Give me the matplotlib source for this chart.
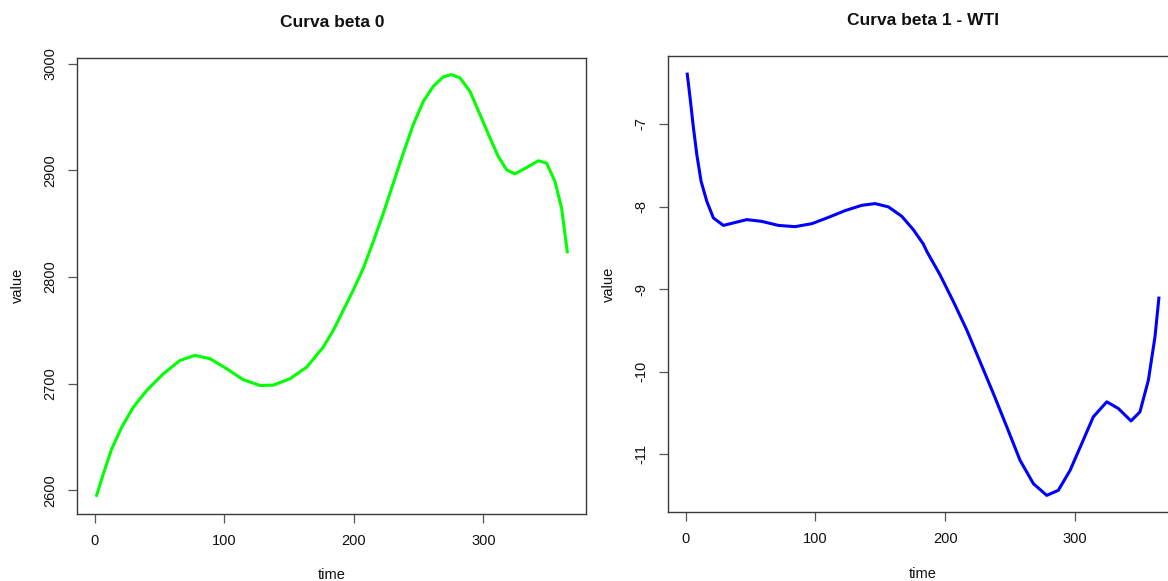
import matplotlib
matplotlib.use("Agg")
import matplotlib.pyplot as plt

plt.rcParams['font.family'] = ['Liberation Sans', 'DejaVu Sans']

# ---- data ----
beta0_time = [1, 6.5, 13, 20.7, 29.7, 40, 52.9, 65.8, 77.3, 88.9, 101.8, 114.6, 127.5,
              137.8, 150.7, 163.6, 176.4, 184.2, 190.6, 199.6, 207.3, 215, 222.8, 230.5,
              238.2, 245.9, 253.7, 261.4, 269.1, 275.6, 282, 289.7, 297.5, 305.2, 311.6,
              318, 324.5, 333.5, 342.5, 348.9, 355.4, 360.5, 365]
beta0_value = [2594, 2615.4, 2638.9, 2659.2, 2678, 2693.7, 2709.4, 2721.9, 2726.6, 2723.5,
               2714.1, 2703.8, 2698.4, 2698.7, 2704.7, 2715.6, 2734.4, 2750.1, 2765.8,
               2787.8, 2808.2, 2833.2, 2859.9, 2888.1, 2916.3, 2942.9, 2964.8, 2978.9,
               2987.8, 2989.9, 2986.8, 2974.2, 2952.3, 2930.4, 2913.1, 2900.6, 2896.8,
               2902.8, 2909.1, 2906.9, 2889.6, 2864.6, 2822.3]

beta1_time = [1, 3.3, 5.9, 8.5, 11.8, 16.2, 21.3, 29, 36.7, 47, 58.6, 71.4, 84.3, 97.2,
              110, 122.9, 135.7, 146, 156.3, 166.6, 175.5, 183.2, 185.9, 196.1, 206.4,
              216.7, 227, 237.2, 247.6, 257.8, 268.1, 278.4, 287.3, 296.4, 305.4, 314.3,
              324.7, 333.6, 343.4, 350.3, 356.8, 361.9, 365]
beta1_value = [-6.379, -6.682, -7.046, -7.370, -7.694, -7.936, -8.138, -8.228, -8.198,
               -8.158, -8.179, -8.228, -8.243, -8.207, -8.131, -8.049, -7.985, -7.964,
               -8.004, -8.118, -8.280, -8.453, -8.543, -8.826, -9.150, -9.493, -9.878,
               -10.261, -10.666, -11.070, -11.353, -11.495, -11.434, -11.192, -10.868,
               -10.545, -10.363, -10.443, -10.594, -10.484, -10.100, -9.574, -9.089]

titles = ["Curva beta 0", "Curva beta 1 - WTI"]
x_ticks = [0, 100, 200, 300]
y_ticks_0 = [2600, 2700, 2800, 2900, 3000]
y_ticks_1 = [-11, -10, -9, -8, -7]

W, H = 1168, 581
fig = plt.figure(figsize=(W / 100, H / 100), dpi=100)

def px_axes(left, right, top, bottom):
    return fig.add_axes([left / W, (H - bottom) / H, (right - left) / W, (bottom - top) / H])

ax0 = px_axes(77.3, 586.3, 57.7, 513.7)
ax1 = px_axes(668.2, 1177.9, 55.7, 512.3)

def r_lim(vals):
    lo, hi = min(vals), max(vals)
    pad = 0.04 * (hi - lo)
    return lo - pad, hi + pad

spine_col = '#3a3a3a'
for ax, t, v, col, title, yt in [
        (ax0, beta0_time, beta0_value, '#00FF00', titles[0], y_ticks_0),
        (ax1, beta1_time, beta1_value, '#0000FF', titles[1], y_ticks_1)]:
    ax.plot(t, v, color=col, lw=2.2, solid_capstyle='butt', solid_joinstyle='round')
    ax.set_xlim(*r_lim(t))
    ax.set_ylim(*r_lim(v))
    ax.set_xticks(x_ticks)
    ax.set_yticks(yt)
    ax.set_yticklabels([str(y) for y in yt], rotation=90, va='center')
    ax.tick_params(axis='both', direction='out', length=6.5, width=0.9, color='#555555',
                   labelsize=10.5, labelcolor='#111111', pad=8)
    for s in ax.spines.values():
        s.set_color(spine_col)
        s.set_linewidth(1.0)
    ax.set_title(title, fontsize=12.5, fontweight='bold', pad=22, color='#111111')
    ax.set_xlabel('time', fontsize=10.5, color='#111111', va='center')
    ax.set_ylabel('value', fontsize=10.5, color='#111111', va='center')
    ax.xaxis.set_label_coords(0.5, -(575 - 513.7) / 456)
    ax.yaxis.set_label_coords(-(77.3 - 18) / 509, 0.5)

fig.savefig('out.png', dpi=100)
